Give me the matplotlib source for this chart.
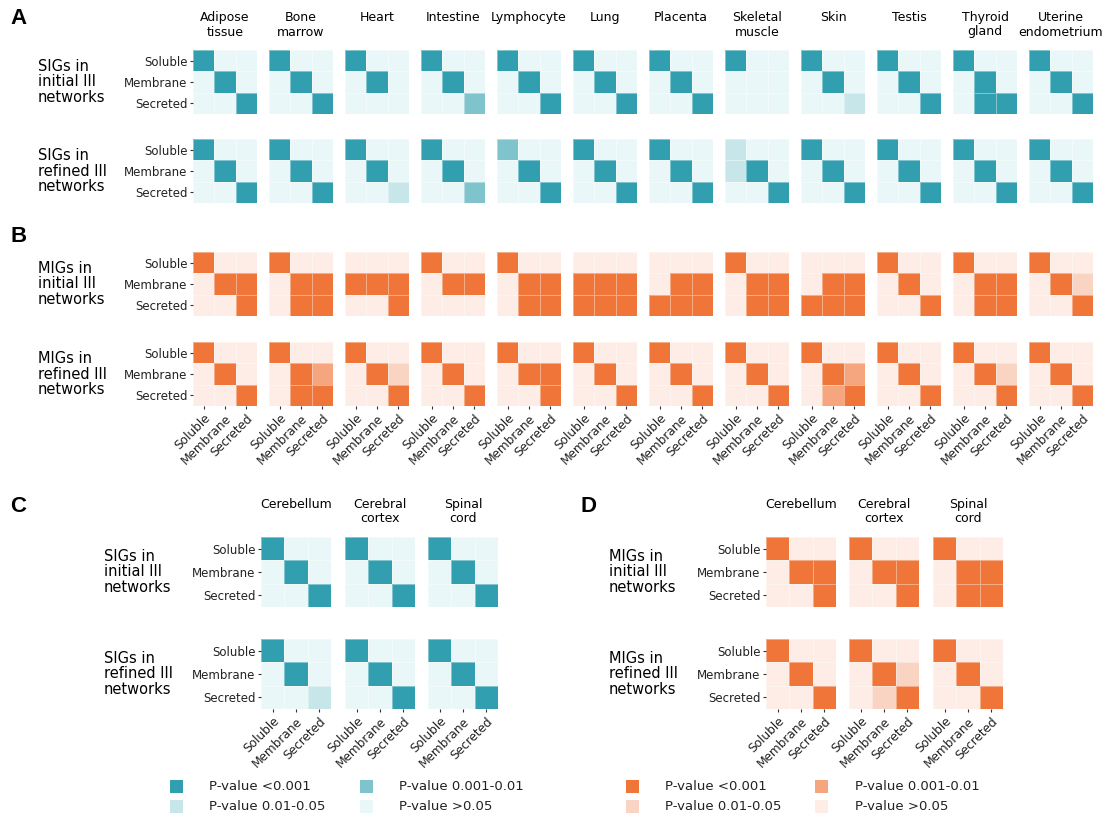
import matplotlib
matplotlib.use('Agg')
import matplotlib.pyplot as plt
import numpy as np
from matplotlib.colors import ListedColormap
from matplotlib.patches import Rectangle

# levels: 0 = >0.05, 1 = 0.01-0.05, 2 = 0.001-0.01, 3 = <0.001
# rows/cols in order Soluble, Membrane, Secreted
categories = ['Soluble', 'Membrane', 'Secreted']
tissues = ['Adipose\ntissue', 'Bone\nmarrow', 'Heart', 'Intestine', 'Lymphocyte', 'Lung',
           'Placenta', 'Skeletal\nmuscle', 'Skin', 'Testis', 'Thyroid\ngland', 'Uterine\nendometrium']
brain = ['Cerebellum', 'Cerebral\ncortex', 'Spinal\ncord']

D = [[3, 0, 0], [0, 3, 0], [0, 0, 3]]  # plain diagonal

sig_initial = [D, D, [[3, 0, 0], [0, 3, 0], [0, 0, 0]], [[3, 0, 0], [0, 3, 0], [0, 0, 2]], D, D,
               D, [[3, 0, 0], [0, 0, 0], [0, 0, 0]], [[3, 0, 0], [0, 3, 0], [0, 0, 1]], D,
               [[3, 0, 0], [0, 3, 0], [0, 3, 3]], D]
sig_refined = [D, D, [[3, 0, 0], [0, 3, 0], [0, 0, 1]], [[3, 0, 0], [0, 3, 0], [0, 0, 2]],
               [[2, 0, 0], [0, 3, 0], [0, 0, 3]], D, D, [[1, 0, 0], [1, 3, 0], [0, 0, 3]], D, D, D, D]
mig_initial = [[[3, 0, 0], [0, 3, 3], [0, 0, 3]], [[3, 0, 0], [0, 3, 3], [0, 3, 3]],
               [[0, 0, 0], [3, 3, 3], [0, 0, 3]], [[3, 0, 0], [0, 3, 3], [0, 0, 0]],
               [[3, 0, 0], [0, 3, 3], [0, 3, 3]], [[0, 0, 0], [3, 3, 3], [3, 3, 3]],
               [[0, 0, 0], [0, 3, 3], [3, 3, 3]], [[3, 0, 0], [0, 3, 3], [0, 3, 3]],
               [[0, 0, 0], [0, 3, 3], [3, 3, 3]], D,
               [[3, 0, 0], [0, 3, 3], [0, 3, 3]], [[3, 0, 0], [0, 3, 1], [0, 0, 3]]]
mig_refined = [D, [[3, 0, 0], [0, 3, 2], [0, 3, 3]], [[3, 0, 0], [0, 3, 1], [0, 0, 3]], D,
               [[3, 0, 0], [0, 3, 3], [0, 0, 3]], D, D, D,
               [[3, 0, 0], [0, 3, 2], [0, 2, 3]], D, [[3, 0, 0], [0, 3, 1], [0, 0, 3]], D]

brain_sig_initial = [D, D, D]
brain_sig_refined = [[[3, 0, 0], [0, 3, 0], [0, 0, 1]], D, D]
brain_mig_initial = [[[3, 0, 0], [0, 3, 3], [0, 0, 3]], [[3, 0, 0], [0, 3, 3], [0, 0, 3]],
                     [[3, 0, 0], [0, 3, 3], [0, 3, 3]]]
brain_mig_refined = [D, [[3, 0, 0], [0, 3, 1], [0, 1, 3]], D]

teal = ['#eaf7f8', '#c6e6e9', '#7fc3cc', '#329fb0']
orange = ['#fdede6', '#fad4c3', '#f5a67f', '#f07538']
legend_labels = ['P-value <0.001', 'P-value 0.001-0.01', 'P-value 0.01-0.05', 'P-value >0.05']

W, H = 1106, 818
fig = plt.figure(figsize=(W / 100, H / 100), dpi=100)
plt.rcParams['font.family'] = 'DejaVu Sans'


def px_axes(x0, y0, w, h):
    return fig.add_axes([x0 / W, 1 - (y0 + h) / H, w / W, h / H])


def ftext(x, y, s, **kw):
    fig.text(x / W, 1 - y / H, s, **kw)


def tile(x0, y0, size, mat, colors, ylab=False, xlab=False):
    ax = px_axes(x0, y0, size, size)
    cmap = ListedColormap(colors)
    ax.pcolormesh(np.array(mat), cmap=cmap, vmin=-0.5, vmax=3.5,
                  edgecolors=(1, 1, 1, 0.4), linewidth=0.5)
    ax.set_xlim(0, 3)
    ax.set_ylim(3, 0)
    for s in ax.spines.values():
        s.set_visible(False)
    ax.tick_params(length=2.5, width=0.8, color='#333333', pad=1.5)
    ax.set_xticks([0.5, 1.5, 2.5])
    ax.set_yticks([0.5, 1.5, 2.5])
    if ylab:
        ax.set_yticklabels(categories, fontsize=8.5, color='#222222')
    else:
        ax.tick_params(axis='y', left=False, labelleft=False)
    if xlab:
        ax.set_xticklabels(categories, fontsize=8.7, color='#222222', rotation=45,
                           ha='right', rotation_mode='anchor')
    else:
        ax.tick_params(axis='x', bottom=False, labelbottom=False)
    return ax


# ---- panels A and B
ax_x = [193 + 76 * i for i in range(12)]
rows_ab = [(50, sig_initial, teal, 'SIGs in\ninitial III\nnetworks'),
           (139, sig_refined, teal, 'SIGs in\nrefined III\nnetworks'),
           (252, mig_initial, orange, 'MIGs in\ninitial III\nnetworks'),
           (342, mig_refined, orange, 'MIGs in\nrefined III\nnetworks')]
for r, (y0, mats, cols, lab) in enumerate(rows_ab):
    for i, x0 in enumerate(ax_x):
        tile(x0, y0, 64, mats[i], cols, ylab=(i == 0), xlab=(r == 3))
    ftext(38, y0 + 32, lab, fontsize=10.5, va='center', ha='left', linespacing=1.05)

for i, x0 in enumerate(ax_x):
    ftext(x0 + 32, 11, tissues[i], fontsize=9, ha='center', va='top', linespacing=1.15)

# ---- panels C and D
bx_c = [261, 345, 428]
bx_d = [766, 849, 933]
rows_cd = [(537, brain_sig_initial, brain_mig_initial, 'initial'),
           (639, brain_sig_refined, brain_mig_refined, 'refined')]
for r, (y0, smats, mmats, kind) in enumerate(rows_cd):
    for i in range(3):
        tile(bx_c[i], y0, 70, smats[i], teal, ylab=(i == 0), xlab=(r == 1))
        tile(bx_d[i], y0, 70, mmats[i], orange, ylab=(i == 0), xlab=(r == 1))
    ftext(104, y0 + 35, 'SIGs in\n%s III\nnetworks' % kind, fontsize=10.5, va='center', linespacing=1.05)
    ftext(609, y0 + 35, 'MIGs in\n%s III\nnetworks' % kind, fontsize=10.5, va='center', linespacing=1.05)

for i in range(3):
    ftext(bx_c[i] + 35, 498, brain[i], fontsize=9, ha='center', va='top', linespacing=1.15)
    ftext(bx_d[i] + 35, 498, brain[i], fontsize=9, ha='center', va='top', linespacing=1.15)

# ---- panel letters
for letter, x, y in [('A', 10, 18), ('B', 10, 236), ('C', 10, 506), ('D', 580, 506)]:
    ftext(x, y, letter, fontsize=16, fontweight='bold', va='center', family='Liberation Sans')

# ---- legends
order = [3, 2, 1, 0]
pos = [(0, 0), (1, 0), (0, 1), (1, 1)]
for cols, sx, tx in [(teal, [170, 360], [209, 399]), (orange, [626, 815], [665, 855])]:
    for k, lvl in enumerate(order):
        c, r = pos[k]
        yc = 786 + 20 * r
        fig.add_artist(Rectangle((sx[c] / W, 1 - (yc + 6.5) / H), 13 / W, 13 / H,
                                 transform=fig.transFigure, facecolor=cols[lvl], edgecolor='none'))
        ftext(tx[c], yc, legend_labels[k], fontsize=9.5, va='center', color='#222222')

plt.savefig('out.png', dpi=100)
